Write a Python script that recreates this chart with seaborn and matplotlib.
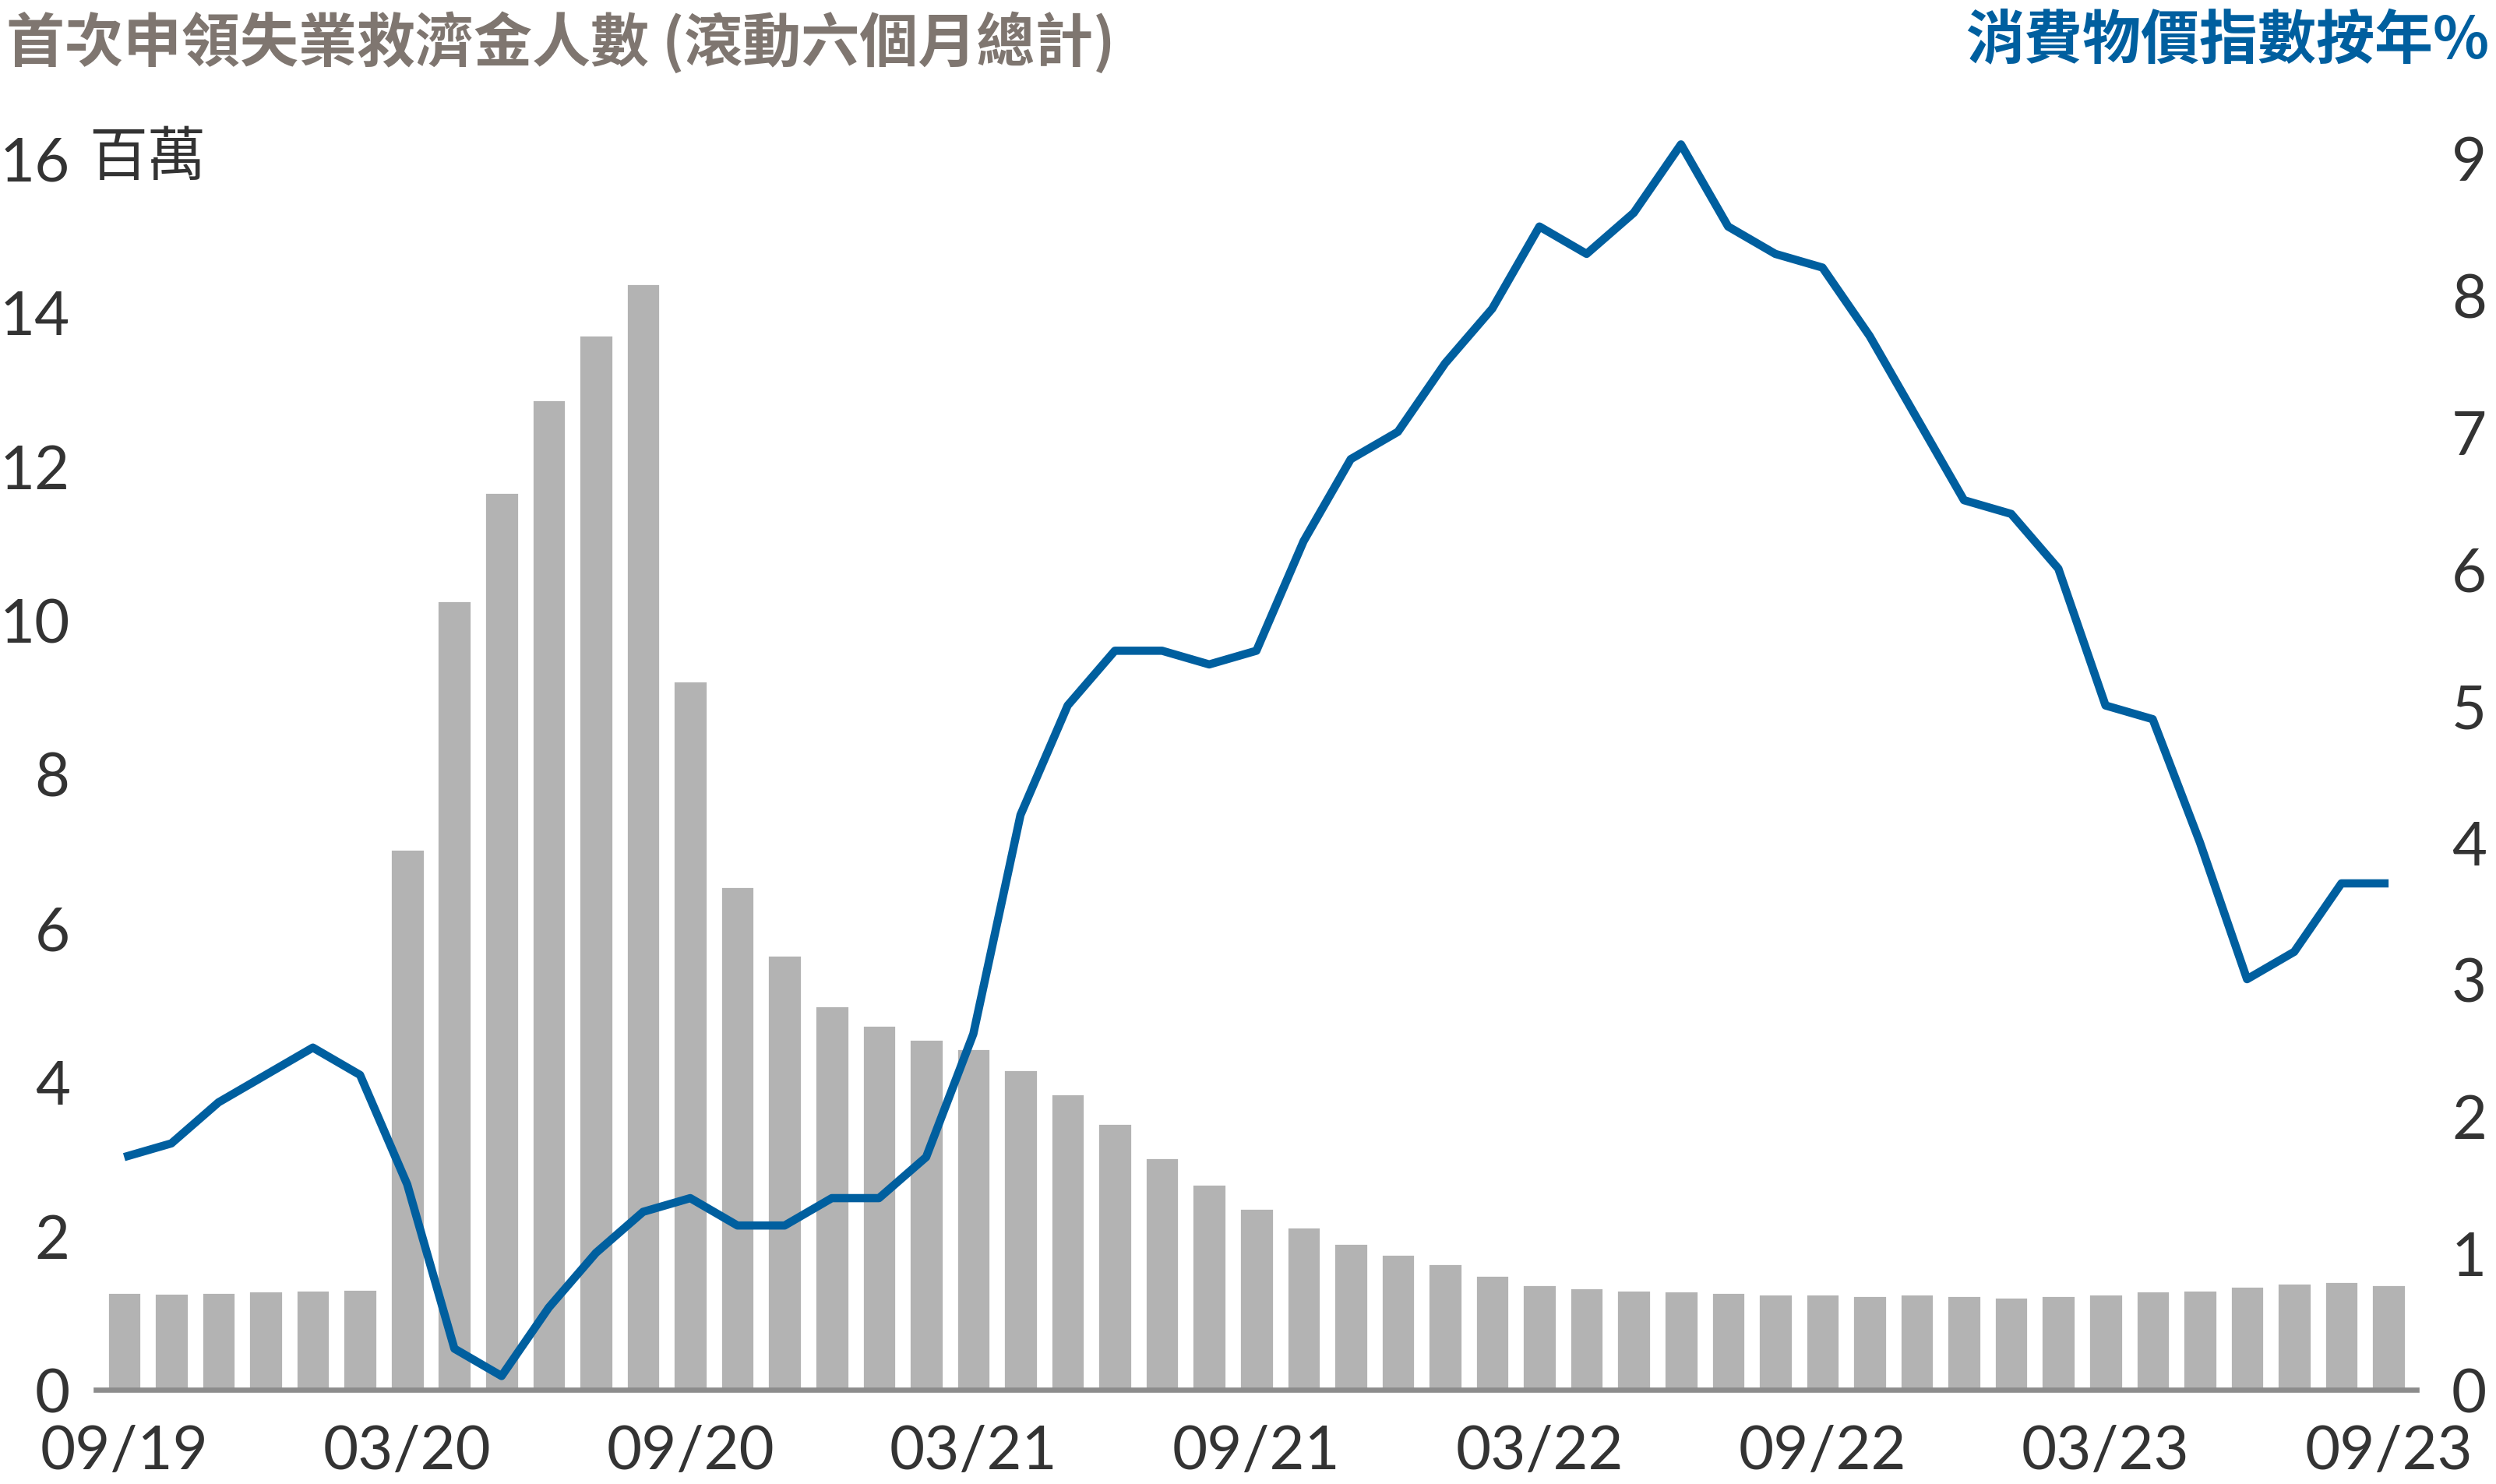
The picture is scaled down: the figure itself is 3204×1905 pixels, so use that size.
import matplotlib
matplotlib.use("Agg")
import matplotlib.pyplot as plt
import seaborn as sns
import pandas as pd

months = ["09/19","10/19","11/19","12/19","01/20","02/20","03/20","04/20","05/20","06/20","07/20","08/20",
          "09/20","10/20","11/20","12/20","01/21","02/21","03/21","04/21","05/21","06/21","07/21","08/21",
          "09/21","10/21","11/21","12/21","01/22","02/22","03/22","04/22","05/22","06/22","07/22","08/22",
          "09/22","10/22","11/22","12/22","01/23","02/23","03/23","04/23","05/23","06/23","07/23","08/23",
          "09/23"]
claims = [1.26,1.25,1.26,1.28,1.29,1.31,7.02,10.25,11.66,12.86,13.70,14.37,
          9.21,6.54,5.65,4.99,4.74,4.55,4.43,4.16,3.85,3.46,3.02,2.67,
          2.36,2.11,1.90,1.76,1.64,1.49,1.37,1.33,1.30,1.28,1.26,1.24,
          1.24,1.22,1.24,1.22,1.20,1.22,1.24,1.28,1.30,1.35,1.39,1.41,
          1.37]
cpi = [1.7,1.8,2.1,2.3,2.5,2.3,1.5,0.3,0.1,0.6,1.0,1.3,
       1.4,1.2,1.2,1.4,1.4,1.7,2.6,4.2,5.0,5.4,5.4,5.3,
       5.4,6.2,6.8,7.0,7.5,7.9,8.5,8.3,8.6,9.1,8.5,8.3,
       8.2,7.7,7.1,6.5,6.4,6.0,5.0,4.9,4.0,3.0,3.2,3.7,
       3.7]
tick_months = months[::6]
left_ticks = [0, 2, 4, 6, 8, 10, 12, 14, 16]
right_ticks = [0, 1, 2, 3, 4, 5, 6, 7, 8, 9]
left_title = "首次申領失業救濟金人數 (滾動六個月總計)"
right_title = "消費物價指數按年%"
unit_label = "百萬"

sns.set_theme(style="white")
plt.rcParams["font.family"] = ["Lato", "Noto Sans CJK TC", "DejaVu Sans"]

df = pd.DataFrame({"month": months, "claims": claims, "cpi": cpi, "idx": range(len(months))})

fig = plt.figure(figsize=(16.025, 9.53), dpi=200)
ax = fig.add_axes([0.0384, 0.0635, 0.9296, 0.8295])

sns.barplot(data=df, x="month", y="claims", color="#b3b3b3", saturation=1, width=0.72, ax=ax)
ax.set_ylim(0, 16)
ax.set_xlim(-0.6, 48.6)

ax2 = ax.twinx()
sns.lineplot(data=df, x="idx", y="cpi", color="#005f9f", linewidth=3.8, ax=ax2)
for ln in ax2.get_lines():
    ln.set_solid_joinstyle("round")
    ln.set_solid_capstyle("butt")
    ln.set_clip_on(False)
ax2.set_ylim(0, 9)
ax2.set_xlim(-0.6, 48.6)

tick_color = "#333333"
ax.set_xticks(range(0, len(months), 6))
ax.set_xticklabels(tick_months)
ax.set_yticks(left_ticks)
ax.set_yticklabels([str(t) for t in left_ticks])
ax2.set_yticks(right_ticks)
ax2.set_yticklabels([str(t) for t in right_ticks])

for a in (ax, ax2):
    a.set_xlabel("")
    a.set_ylabel("")
    for s in ["top", "left", "right", "bottom"]:
        a.spines[s].set_visible(False)
    a.grid(False)

ax.spines["bottom"].set_visible(True)
ax.spines["bottom"].set_color("#8c8c8c")
ax.spines["bottom"].set_linewidth(2.4)

ax.tick_params(axis="x", length=0, pad=16, labelsize=28, labelcolor=tick_color)
ax.tick_params(axis="y", length=0, pad=12, labelsize=28, labelcolor=tick_color)
ax2.tick_params(axis="y", length=0, pad=16, labelsize=28, labelcolor=tick_color)
for lab in ax.get_xticklabels() + ax.get_yticklabels() + ax2.get_yticklabels():
    lab.set_fontweight("normal")
    lab.set_color(tick_color)

fig.text(0.0025, 0.992, left_title, ha="left", va="top", fontsize=27,
         color="#7f7670", fontweight="bold", family=["Noto Sans CJK TC", "DejaVu Sans"])
fig.text(0.997, 0.992, right_title, ha="right", va="top", fontsize=27,
         color="#005f9f", fontweight="bold", family=["Noto Sans CJK TC", "DejaVu Sans"])
ax.text(-0.75, 16, unit_label, transform=ax.transData, ha="left", va="center",
        fontsize=27, color=tick_color, family=["Noto Sans CJK TC", "DejaVu Sans"])

fig.savefig("out.png", dpi=200)
